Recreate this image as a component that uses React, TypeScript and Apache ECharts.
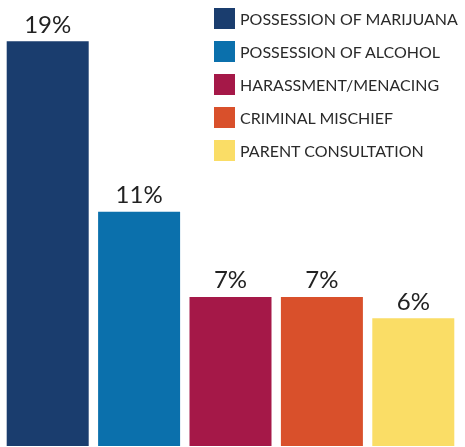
import React, { useEffect, useRef } from "react";
import * as echarts from "echarts";

const categories = [
  "POSSESSION OF MARIJUANA",
  "POSSESSION OF ALCOHOL",
  "HARASSMENT/MENACING",
  "CRIMINAL MISCHIEF",
  "PARENT CONSULTATION",
];
const values = [19, 11, 7, 7, 6];
const colors = ["#1a3d6e", "#0b70ac", "#a51848", "#d9502b", "#fadd66"];

export default function App() {
  const ref = useRef<HTMLDivElement>(null);
  useEffect(() => {
    const chart = echarts.init(ref.current!, null, { renderer: "svg" });
    const series = categories.map((name, i) => ({
      name,
      type: "bar",
      stack: "all",
      barWidth: 82,
      itemStyle: { color: colors[i] },
      label: {
        show: true,
        position: "top",
        distance: 6,
        formatter: "{c}%",
        fontSize: 24,
        fontFamily: "Lato",
        color: "#222222",
      },
      data: values.map((v, j) => (j === i ? v : "-")),
    }));
    chart.setOption({
      animation: false,
      legend: {
        orient: "vertical",
        left: 209,
        top: 3,
        itemWidth: 21,
        itemHeight: 21,
        itemGap: 12,
        icon: "rect",
        textStyle: { fontSize: 16, fontFamily: "Lato", color: "#2a2a2a" },
        data: categories,
      },
      grid: { left: 2, right: 6, top: 20, bottom: 1 },
      xAxis: { type: "category", data: categories, show: false },
      yAxis: { type: "value", min: 0, max: 20, show: false },
      series,
    });
    return () => chart.dispose();
  }, []);
  return <div ref={ref} style={{ width: 465, height: 447, position: "fixed", left: 0, top: 0 }} />;
}
